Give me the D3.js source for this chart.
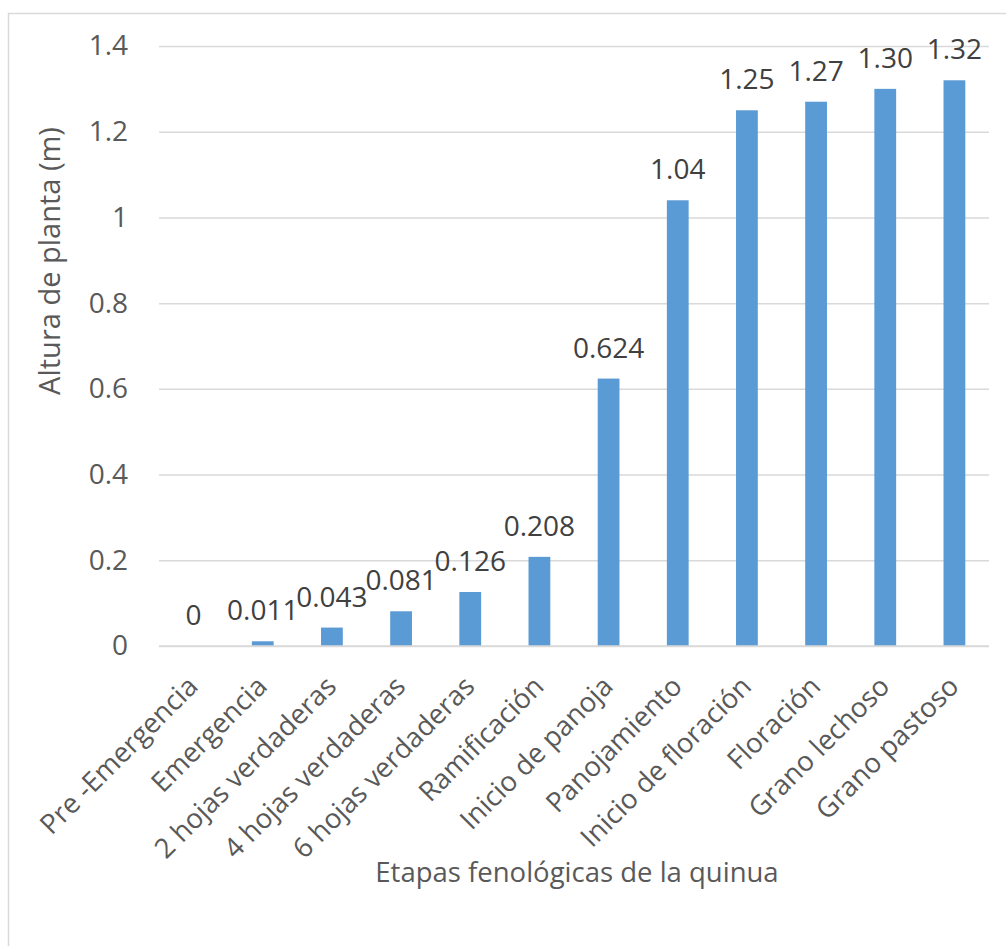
<!DOCTYPE html>
<html>
<head>
<meta charset="utf-8">
<script src="https://cdn.jsdelivr.net/npm/d3@7"></script>
<style>
  html, body { margin: 0; padding: 0; background: #fff; }
  svg { display: block; font-family: "Open Sans", "Noto Sans", sans-serif; }
</style>
</head>
<body>
<svg id="chart" width="1006" height="946"></svg>
<script>
// Plant height (m) by phenological stage of quinoa
const stages = [
  "Pre -Emergencia", "Emergencia", "2 hojas verdaderas", "4 hojas verdaderas",
  "6 hojas verdaderas", "Ramificación", "Inicio de panoja", "Panojamiento",
  "Inicio de floración", "Floración", "Grano lechoso", "Grano pastoso"
];
const heights = [0, 0.011, 0.043, 0.081, 0.126, 0.208, 0.624, 1.04, 1.25, 1.27, 1.30, 1.32];
const heightLabels = ["0", "0.011", "0.043", "0.081", "0.126", "0.208", "0.624", "1.04", "1.25", "1.27", "1.30", "1.32"];
const yTicks = [0, 0.2, 0.4, 0.6, 0.8, 1, 1.2, 1.4];

const svg = d3.select("#chart");
const margin = { left: 159, right: 17, top: 46, bottom: 300 };
const W = 1006, H = 946;

// outer chart border
svg.append("rect")
  .attr("x", 8.5).attr("y", 13.5)
  .attr("width", 1000).attr("height", 940)
  .attr("fill", "#fff").attr("stroke", "#d9d9d9").attr("stroke-width", 1.5);

const x = d3.scaleBand()
  .domain(stages)
  .range([margin.left, W - margin.right])
  .paddingInner(0.685)
  .paddingOuter(0.3425);

const y = d3.scaleLinear().domain([0, 1.4]).range([646, 46]);

// gridlines
const grid = svg.append("g")
  .attr("transform", `translate(${margin.left},0)`)
  .call(d3.axisLeft(y).tickValues(yTicks).tickSize(-(W - margin.right - margin.left)).tickFormat(""));
grid.select(".domain").remove();
grid.selectAll("line").attr("stroke", "#d9d9d9").attr("stroke-width", 1.5);

// y tick labels
const yAxis = svg.append("g")
  .attr("transform", `translate(${margin.left - 31},0)`)
  .call(d3.axisLeft(y).tickValues(yTicks).tickSize(0).tickPadding(0).tickFormat(d3.format("")));
yAxis.select(".domain").remove();
yAxis.selectAll("text")
  .attr("font-size", 28).attr("fill", "#595959")
  .attr("font-family", "Open Sans, sans-serif");

// bars
svg.append("g").selectAll("rect")
  .data(stages)
  .join("rect")
  .attr("x", d => x(d))
  .attr("width", x.bandwidth())
  .attr("y", (d, i) => y(heights[i]))
  .attr("height", (d, i) => y(0) - y(heights[i]))
  .attr("fill", "#5b9bd5");

// baseline axis
svg.append("line")
  .attr("x1", margin.left).attr("x2", W - margin.right)
  .attr("y1", y(0)).attr("y2", y(0))
  .attr("stroke", "#d9d9d9").attr("stroke-width", 1.5);

// value labels
svg.append("g").selectAll("text")
  .data(stages)
  .join("text")
  .attr("x", d => x(d) + x.bandwidth() / 2)
  .attr("y", (d, i) => y(heights[i]) - 21)
  .attr("text-anchor", "middle")
  .attr("font-size", 28)
  .attr("fill", "#404040")
  .text((d, i) => heightLabels[i]);

// category labels rotated 45°
const xAxis = svg.append("g")
  .attr("transform", `translate(0,${y(0)})`)
  .call(d3.axisBottom(x).tickSize(0).tickPadding(0));
xAxis.select(".domain").remove();
xAxis.selectAll("text")
  .attr("font-size", 27.5)
  .attr("fill", "#595959")
  .attr("font-family", "Open Sans, sans-serif")
  .attr("text-anchor", "end")
  .attr("dy", null)
  .attr("transform", "translate(6,42) rotate(-45)");

// axis titles
svg.append("text")
  .attr("transform", "translate(60,261) rotate(-90)")
  .attr("text-anchor", "middle")
  .attr("font-size", 29)
  .attr("fill", "#595959")
  .text("Altura de planta (m)");

svg.append("text")
  .attr("x", 577).attr("y", 882)
  .attr("text-anchor", "middle")
  .attr("font-size", 27.5)
  .attr("fill", "#595959")
  .text("Etapas fenológicas de la quinua");
</script>
</body>
</html>
